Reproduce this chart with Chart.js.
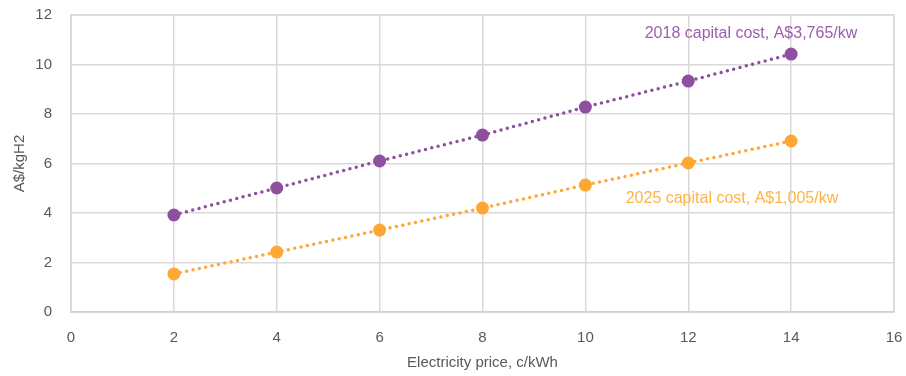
<!DOCTYPE html>
<html>
<head>
<meta charset="utf-8">
<script src="https://cdn.jsdelivr.net/npm/chart.js@4/dist/chart.umd.min.js"></script>
<style>
  html, body { margin: 0; padding: 0; background: #ffffff; }
  #wrap { width: 906px; height: 376px; }
</style>
</head>
<body>
<div id="wrap"><canvas id="c" width="906" height="376"></canvas></div>
<script>
// Electricity price (c/kWh)
const prices = [2, 4, 6, 8, 10, 12, 14];
// Hydrogen cost (A$/kgH2)
const cost2018 = [3.92, 5.01, 6.10, 7.15, 8.28, 9.33, 10.42];
const cost2025 = [1.54, 2.42, 3.31, 4.20, 5.13, 6.02, 6.91];
const seriesNames = ['2018 capital cost, A$3,765/kw', '2025 capital cost, A$1,005/kw'];
const xTicks = [0, 2, 4, 6, 8, 10, 12, 14, 16];
const yTicks = [0, 2, 4, 6, 8, 10, 12];

const PURPLE = '#8e4f9f';
const ORANGE = '#ffa733';
const FONT = '"Liberation Sans", Arial, sans-serif';

const toPoints = (xs, ys) => xs.map((x, i) => ({ x, y: ys[i] }));

// Series captions placed in data space next to the line ends
const captions = [
  { text: seriesNames[0], x: 13.22, y: 11.25, color: '#9b5fb0' },
  { text: seriesNames[1], x: 12.85, y: 4.6, color: '#ffb347' }
];

const captionPlugin = {
  id: 'captions',
  afterDatasetsDraw(chart) {
    const { ctx, scales } = chart;
    ctx.save();
    ctx.font = '16px ' + FONT;
    ctx.textAlign = 'center';
    ctx.textBaseline = 'middle';
    captions.forEach(c => {
      ctx.fillStyle = c.color;
      ctx.fillText(c.text, scales.x.getPixelForValue(c.x), scales.y.getPixelForValue(c.y));
    });
    ctx.restore();
  }
};

const lineStyle = color => ({
  borderColor: color,
  backgroundColor: color,
  borderWidth: 3.5,
  borderDash: [0, 6.5],
  borderCapStyle: 'round',
  pointRadius: 6.5,
  pointBorderWidth: 0,
  pointBackgroundColor: color,
  tension: 0
});

new Chart(document.getElementById('c'), {
  type: 'line',
  data: {
    datasets: [
      Object.assign({ label: seriesNames[0], data: toPoints(prices, cost2018) }, lineStyle(PURPLE)),
      Object.assign({ label: seriesNames[1], data: toPoints(prices, cost2025) }, lineStyle(ORANGE))
    ]
  },
  options: {
    responsive: false,
    animation: false,
    devicePixelRatio: 1,
    layout: { padding: { top: 15, right: 12, left: 0, bottom: 0 } },
    plugins: {
      legend: { display: false },
      tooltip: { enabled: false }
    },
    scales: {
      x: {
        type: 'linear',
        min: 0,
        max: 16,
        afterBuildTicks(scale) { scale.ticks = xTicks.map(v => ({ value: v })); },
        afterFit(scale) {
          scale.height = 64;
          scale.paddingLeft = 0;
          scale.paddingRight = 0;
        },
        grid: { color: '#d9d9d9', lineWidth: 1.5, drawTicks: false },
        border: { color: '#bfbfbf', width: 1.5 },
        ticks: { color: '#595959', font: { family: FONT, size: 15 }, padding: 17 },
        title: {
          display: true,
          text: 'Electricity price, c/kWh',
          color: '#595959',
          font: { family: FONT, size: 15 },
          padding: { top: 14 }
        }
      },
      y: {
        min: 0,
        max: 12,
        afterBuildTicks(scale) { scale.ticks = yTicks.map(v => ({ value: v })); },
        afterFit(scale) {
          scale.width = 71;
          scale.paddingTop = 0;
          scale.paddingBottom = 0;
        },
        grid: { color: '#d9d9d9', lineWidth: 1.5, drawTicks: false },
        border: { color: '#d9d9d9', width: 1.5 },
        ticks: { color: '#595959', font: { family: FONT, size: 15 }, padding: 19 },
        title: {
          display: true,
          text: 'A$/kgH2',
          color: '#595959',
          font: { family: FONT, size: 15 },
          padding: { top: 11, bottom: 0 }
        }
      }
    }
  },
  plugins: [captionPlugin,
    {
      id: 'frame',
      beforeDatasetsDraw(chart) {
        const { ctx, chartArea: a } = chart;
        ctx.save();
        ctx.strokeStyle = '#d9d9d9';
        ctx.lineWidth = 1.5;
        ctx.strokeRect(a.left, a.top, a.right - a.left, a.bottom - a.top);
        ctx.restore();
      }
    }
  ]
});
</script>
</body>
</html>
